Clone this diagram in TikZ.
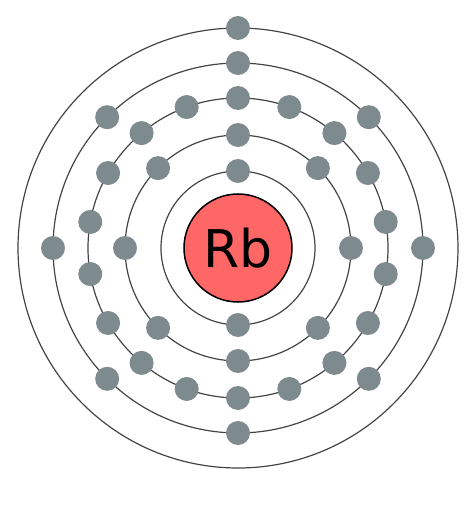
\documentclass[tikz,border=0pt]{standalone}
\usepackage{fontspec}
\setmainfont{DejaVu Sans}
\usetikzlibrary{positioning}
\definecolor{electrongray}{RGB}{125,138,142}
\definecolor{nucleusred}{RGB}{255,102,102}
\definecolor{shellgray}{RGB}{68,68,68}

\begin{document}
\begin{tikzpicture}[x=1pt, y=1pt,
    shell/.style={draw=shellgray, line width=1.2pt},
    electron/.style={circle, fill=electrongray, inner sep=0pt, minimum size=24pt}]
    \useasboundingbox (-238,-269) rectangle (236,248);
    % shells
    \foreach \r in {77,113,150,185,220}
        \draw[shell] (0,0) circle (\r pt);
    % nucleus
    \node[circle, draw=black, line width=1.5pt, fill=nucleusred, minimum size=108pt, inner sep=0pt,
          font=\fontsize{52}{52}\selectfont] (nucleus) at (0,0) {Rb};
    % electrons: 2, 8, 18, 8, 1
    \foreach \a in {90,270}
        \node[electron] (ea-\a) at (\a:77pt) {};
    \foreach \a in {0,45,...,315}
        \node[electron] (eb-\a) at (\a:113pt) {};
    \foreach \a in {90,110,...,430}
        \node[electron] (ec-\a) at (\a:150pt) {};
    \foreach \a in {0,45,...,315}
        \node[electron] (ed-\a) at (\a:185pt) {};
    \node[electron] (ee-90) at (90:220pt) {};
\end{tikzpicture}
\end{document}
